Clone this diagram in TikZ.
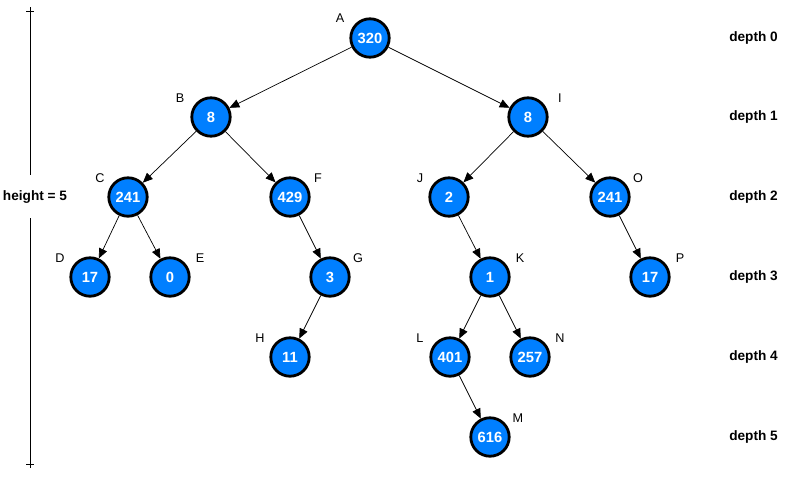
\documentclass[tikz,border=0pt]{standalone}
\usepackage{fontspec}
\setmainfont{Liberation Sans}
\usetikzlibrary{arrows.meta}
\definecolor{nodeblue}{RGB}{0,127,255}

\begin{document}
\begin{tikzpicture}[x=0.025cm, y=-0.025cm,
    vtx/.style={draw, circle, line width=2pt, fill=nodeblue, minimum size=0.96cm, inner sep=0pt, text=white, font=\bfseries\fontsize{10.5}{12}\selectfont},
    lbl/.style={font=\fontsize{9}{11}\selectfont, inner sep=0pt},
    dep/.style={font=\bfseries\fontsize{9.7}{11}\selectfont, inner sep=0pt},
    arr/.style={-{Triangle[length=7pt, width=6pt]}, line width=0.5pt},
    bar/.style={line width=0.6pt}
]
\useasboundingbox (0,0) rectangle (790,476);

% tree
\node[vtx] (A) at (370,38) {320};
\node[vtx] (B) at (211,117) {8};
\node[vtx] (I) at (528,117) {8};
\node[vtx] (C) at (128,197) {241};
\node[vtx] (F) at (290,197) {429};
\node[vtx] (J) at (449,197) {2};
\node[vtx] (O) at (610,197) {241};
\node[vtx] (D) at (90,277) {17};
\node[vtx] (E) at (170,277) {0};
\node[vtx] (G) at (330,277) {3};
\node[vtx] (K) at (490,277) {1};
\node[vtx] (P) at (650,277) {17};
\node[vtx] (H) at (290,357) {11};
\node[vtx] (L) at (450,357) {401};
\node[vtx] (N) at (530,357) {257};
\node[vtx] (M) at (490,437) {616};

% letters
\node[lbl] (lA) at (340,18) {A};
\node[lbl] (lB) at (180,98) {B};
\node[lbl] (lI) at (560,98) {I};
\node[lbl] (lC) at (100,178) {C};
\node[lbl] (lF) at (318,178) {F};
\node[lbl] (lJ) at (420,178) {J};
\node[lbl] (lO) at (638,178) {O};
\node[lbl] (lD) at (60,258) {D};
\node[lbl] (lE) at (200,258) {E};
\node[lbl] (lG) at (358,258) {G};
\node[lbl] (lK) at (520,258) {K};
\node[lbl] (lP) at (680,258) {P};
\node[lbl] (lH) at (260,338) {H};
\node[lbl] (lL) at (420,338) {L};
\node[lbl] (lN) at (560,338) {N};
\node[lbl] (lM) at (518,418) {M};

% edges
\draw[arr] (A) -- (B);
\draw[arr] (A) -- (I);
\draw[arr] (B) -- (C);
\draw[arr] (B) -- (F);
\draw[arr] (I) -- (J);
\draw[arr] (I) -- (O);
\draw[arr] (C) -- (D);
\draw[arr] (C) -- (E);
\draw[arr] (F) -- (G);
\draw[arr] (J) -- (K);
\draw[arr] (O) -- (P);
\draw[arr] (G) -- (H);
\draw[arr] (K) -- (L);
\draw[arr] (K) -- (N);
\draw[arr] (L) -- (M);

% depths
\node[dep, anchor=west] (d0) at (729,38) {depth 0};
\node[dep, anchor=west] (d1) at (729,117) {depth 1};
\node[dep, anchor=west] (d2) at (729,197) {depth 2};
\node[dep, anchor=west] (d3) at (729,277) {depth 3};
\node[dep, anchor=west] (d4) at (729,357) {depth 4};
\node[dep, anchor=west] (d5) at (729,437) {depth 5};

% height bar
\node[dep] (ht) at (35,197) {height = 5};
\coordinate (top) at (30,7);
\coordinate (gt) at (30,175);
\coordinate (gb) at (30,218);
\coordinate (bot) at (30,468);
\draw[bar] (top) -- (gt);
\draw[bar] (gb) -- (bot);
\draw[bar] (26,11) -- (34,11);
\draw[bar] (26,464) -- (34,464);
\end{tikzpicture}
\end{document}
